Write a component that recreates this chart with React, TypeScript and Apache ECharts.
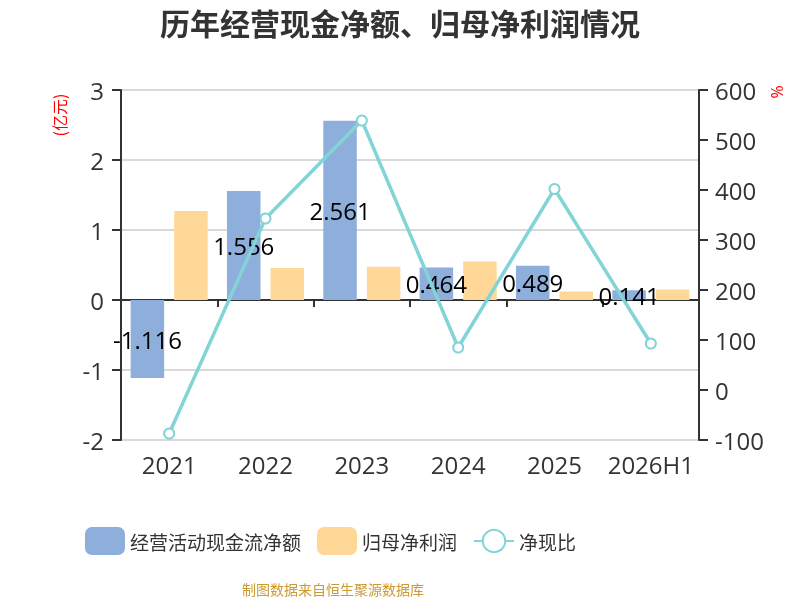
import React, { useEffect, useRef } from "react";
import * as echarts from "echarts";

const categories = ["2021", "2022", "2023", "2024", "2025", "2026H1"];
const cashFlow = [-1.116, 1.556, 2.561, 0.464, 0.489, 0.141];
const netProfit = [1.27, 0.457, 0.476, 0.55, 0.122, 0.15];
const cashRatio = [-87, 343, 539, 85, 402, 93];
const leftTicks = { min: -2, max: 3, interval: 1 };
const rightTicks = { min: -100, max: 600, interval: 100 };

const FONT = "'Open Sans', 'Noto Sans CJK SC', sans-serif";
const CJK = "'Noto Sans CJK SC', sans-serif";

export default function App() {
  const ref = useRef<HTMLDivElement>(null);
  useEffect(() => {
    if (!ref.current) return;
    const chart = echarts.init(ref.current, null, { renderer: "svg" });
    chart.setOption({
      animation: false,
      textStyle: { fontFamily: FONT },
      title: {
        text: "历年经营现金净额、归母净利润情况",
        left: "center",
        top: 2,
        textStyle: { fontSize: 30, fontWeight: "bold", color: "#333", fontFamily: CJK },
      },
      grid: { left: 121, right: 101, top: 90, bottom: 160 },
      legend: {
        left: 80,
        top: 522,
        itemWidth: 40,
        itemHeight: 28,
        itemGap: 16,
        textStyle: { fontSize: 19, color: "#333", fontFamily: CJK },
        data: [
          { name: "经营活动现金流净额", icon: "roundRect" },
          { name: "归母净利润", icon: "roundRect" },
          { name: "净现比" },
        ],
      },
      xAxis: [
        {
          type: "category",
          data: categories,
          position: "bottom",
          axisLine: { show: false, onZero: false },
          axisTick: { show: false },
          axisLabel: { fontSize: 24, color: "#333", margin: 12, interval: 0 },
        },
        {
          type: "category",
          data: categories,
          position: "bottom",
          axisLine: { show: true, onZero: true, lineStyle: { color: "#333", width: 2 } },
          axisTick: { show: true, length: 7, lineStyle: { color: "#333", width: 2 } },
          axisLabel: { show: false },
        },
      ],
      yAxis: [
        {
          type: "value",
          min: leftTicks.min,
          max: leftTicks.max,
          interval: leftTicks.interval,
          axisLine: { show: true, lineStyle: { color: "#333", width: 2 } },
          axisTick: { show: true, length: 9, lineStyle: { color: "#333", width: 2 } },
          axisLabel: { fontSize: 24, color: "#333", margin: 17 },
          splitLine: { show: true, lineStyle: { color: "#ccc", width: 1.5 } },
        },
        {
          type: "value",
          min: rightTicks.min,
          max: rightTicks.max,
          interval: rightTicks.interval,
          position: "right",
          axisLine: { show: true, lineStyle: { color: "#333", width: 2 } },
          axisTick: { show: true, length: 9, lineStyle: { color: "#333", width: 2 } },
          axisLabel: { fontSize: 24, color: "#333", margin: 16 },
          splitLine: { show: false },
        },
      ],
      series: [
        {
          name: "经营活动现金流净额",
          type: "bar",
          data: cashFlow,
          barGap: "30%",
          barCategoryGap: "20%",
          itemStyle: { color: "#8eaedb" },
          label: { show: true, position: "inside", color: "#000", fontSize: 24, fontFamily: FONT },
        },
        {
          name: "归母净利润",
          type: "bar",
          data: netProfit,
          barGap: "30%",
          barCategoryGap: "20%",
          itemStyle: { color: "#ffd898" },
        },
        {
          name: "净现比",
          type: "line",
          yAxisIndex: 1,
          data: cashRatio,
          symbol: "emptyCircle",
          symbolSize: 10,
          lineStyle: { color: "#82d4d7", width: 3.5 },
          itemStyle: { color: "#82d4d7", borderWidth: 2 },
        },
      ],
      graphic: [
        {
          type: "text",
          x: 59,
          y: 115,
          rotation: Math.PI / 2,
          style: {
            text: "(亿元)",
            fill: "#ff0000",
            fontSize: 16,
            fontFamily: CJK,
            align: "center",
            verticalAlign: "middle",
          },
        },
        {
          type: "text",
          x: 777,
          y: 92,
          rotation: Math.PI / 2,
          style: {
            text: "%",
            fill: "#ff0000",
            fontSize: 16,
            fontFamily: FONT,
            align: "center",
            verticalAlign: "middle",
          },
        },
        {
          type: "text",
          x: 333,
          y: 589,
          style: {
            text: "制图数据来自恒生聚源数据库",
            fill: "#cc9a30",
            fontSize: 14,
            fontFamily: CJK,
            align: "center",
            verticalAlign: "middle",
          },
        },
      ],
    });
    return () => chart.dispose();
  }, []);
  return (
    <div
      ref={ref}
      style={{ position: "fixed", left: 0, top: 0, width: 800, height: 600 }}
    />
  );
}
